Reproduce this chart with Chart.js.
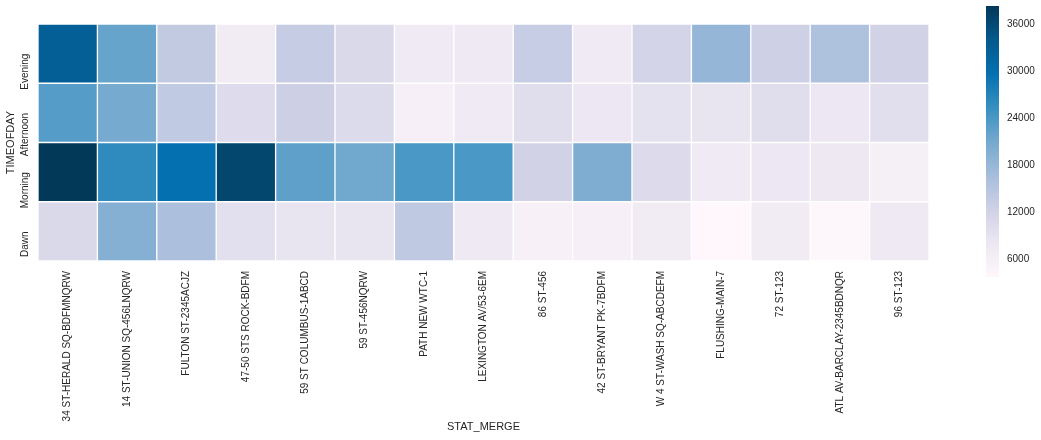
<!DOCTYPE html>
<html><head><meta charset="utf-8">
<script src="https://cdn.jsdelivr.net/npm/chart.js@4/dist/chart.umd.min.js"></script>
<style>
html,body{margin:0;padding:0;background:#fff;overflow:hidden}
#wrap{position:relative;width:1041px;height:440px;background:#fff}
#main{position:absolute;left:0;top:0}
#cbar{position:absolute;left:960px;top:0}
</style></head><body>
<div id="wrap">
<canvas id="main" width="1041" height="440"></canvas>
<canvas id="cbar" width="81" height="440"></canvas>
</div>
<script>
// ---- data ----
const stations = ["34 ST-HERALD SQ-BDFMNQRW","14 ST-UNION SQ-456LNQRW","FULTON ST-2345ACJZ","47-50 STS ROCK-BDFM","59 ST COLUMBUS-1ABCD","59 ST-456NQRW","PATH NEW WTC-1","LEXINGTON AV/53-6EM","86 ST-456","42 ST-BRYANT PK-7BDFM","W 4 ST-WASH SQ-ABCDEFM","FLUSHING-MAIN-7","72 ST-123","ATL AV-BARCLAY-2345BDNQR","96 ST-123"];
const timesOfDay = ["Evening","Afternoon","Morning","Dawn"];
const evening   = [33000,22000,13800,7000,13500,10800,7300,7500,13300,7300,11800,18200,12600,15900,12100];
const afternoon = [23200,20900,14000,10200,12700,10500,5750,7100,9900,8000,9100,8650,9900,8000,9800];
const morning   = [38400,26000,29700,36600,22600,21300,24000,24000,12100,20100,10400,7350,8000,7800,6000];
const dawn      = [10800,19500,16100,9600,8650,8650,14100,7500,5500,5750,7000,3700,7000,4100,7500];
const colorbarTicks = [6000,12000,18000,24000,30000,36000];

const rows = [evening, afternoon, morning, dawn];
const allVals = rows.flat();
const vmin = Math.min(...allVals);
const vmax = Math.max(...allVals);

// PuBu colormap
const pubuStops = ["#fff7fb","#ece7f2","#d0d1e6","#a6bddb","#74a9cf","#3690c0","#0570b0","#045a8d","#023858"];
function hex2rgb(h){return [parseInt(h.slice(1,3),16),parseInt(h.slice(3,5),16),parseInt(h.slice(5,7),16)];}
const pubuRGB = pubuStops.map(hex2rgb);
function pubu(v){
  let t = (v - vmin) / (vmax - vmin);
  t = Math.max(0, Math.min(1, t));
  const p = t * (pubuRGB.length - 1);
  const i = Math.min(Math.floor(p), pubuRGB.length - 2);
  const f = p - i;
  const a = pubuRGB[i], b = pubuRGB[i+1];
  const c = a.map((x,k)=>Math.round(x + (b[k]-x)*f));
  return `rgb(${c[0]},${c[1]},${c[2]})`;
}

Chart.defaults.font.family = '"Liberation Sans", Arial, sans-serif';
Chart.defaults.color = '#262626';

const nRows = timesOfDay.length;
const datasets = rows.map((vals, r) => ({
  label: timesOfDay[r],
  data: vals.map(() => [nRows - 1 - r, nRows - r]),
  backgroundColor: vals.map(v => pubu(v)),
  borderColor: '#ffffff',
  borderWidth: 1,
  borderSkipped: false,
  grouped: false,
  barPercentage: 1,
  categoryPercentage: 1
}));

new Chart(document.getElementById('main'), {
  type: 'bar',
  data: { labels: stations, datasets },
  options: {
    responsive: false,
    animation: false,
    events: [],
    devicePixelRatio: 1,
    layout: { padding: { left: 0, top: 24, right: 112, bottom: 0 } },
    plugins: { legend: { display: false }, tooltip: { enabled: false } },
    scales: {
      x: {
        type: 'category',
        grid: { display: false, drawTicks: false },
        border: { display: false },
        ticks: { autoSkip: false, minRotation: 90, maxRotation: 90, padding: 10, font: { size: 10 }, color: '#262626' },
        title: { display: true, text: 'STAT_MERGE', font: { size: 11 }, color: '#262626', padding: { top: 0, bottom: 6 } },
        afterFit: s => { s.height = 179; s.paddingLeft = 0; s.paddingRight = 0; }
      },
      y: {
        type: 'linear',
        min: 0, max: nRows,
        grid: { display: false, drawTicks: false },
        border: { display: false },
        afterBuildTicks: s => { s.ticks = timesOfDay.map((t, r) => ({ value: nRows - 1 - r + 0.5 })); },
        ticks: {
          minRotation: 90, maxRotation: 90, padding: 13, font: { size: 10 }, color: '#262626',
          callback: v => timesOfDay[nRows - 1 - Math.floor(v)]
        },
        title: { display: true, text: 'TIMEOFDAY', font: { size: 11 }, color: '#262626', padding: { top: 4, bottom: 0 } },
        afterFit: s => { s.width = 38; s.paddingTop = 0; s.paddingBottom = 0; }
      }
    }
  }
});

new Chart(document.getElementById('cbar'), {
  type: 'bar',
  data: {
    labels: [''],
    datasets: [{
      data: [[vmin, vmax]],
      barPercentage: 1,
      categoryPercentage: 1,
      borderWidth: 0,
      backgroundColor: (ctx) => {
        const ch = ctx.chart;
        if (!ch.chartArea) return pubuStops[4];
        const ys = ch.scales.y;
        const g = ch.ctx.createLinearGradient(0, ys.getPixelForValue(vmin), 0, ys.getPixelForValue(vmax));
        pubuStops.forEach((c, i) => g.addColorStop(i / (pubuStops.length - 1), c));
        return g;
      }
    }]
  },
  options: {
    responsive: false,
    animation: false,
    events: [],
    devicePixelRatio: 1,
    layout: { padding: { left: 26, top: 6, right: 0, bottom: 163 } },
    plugins: { legend: { display: false }, tooltip: { enabled: false } },
    scales: {
      x: { display: false },
      y: {
        position: 'right',
        min: vmin, max: vmax,
        grid: { display: false, drawTicks: false },
        border: { display: false },
        afterBuildTicks: s => { s.ticks = colorbarTicks.map(v => ({ value: v })); },
        ticks: { padding: 8, font: { size: 10 }, color: '#262626', callback: v => String(v) },
        afterFit: s => { s.width = 42; s.paddingTop = 0; s.paddingBottom = 0; }
      }
    }
  }
});
</script>
</body></html>
